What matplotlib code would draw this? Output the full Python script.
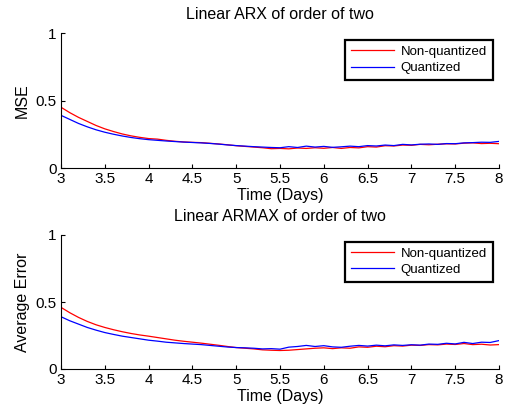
import numpy as np
import matplotlib
matplotlib.use('Agg')
import matplotlib.pyplot as plt

plt.rcParams['font.family'] = ['Liberation Sans', 'DejaVu Sans']

# time axis in days (0.1 day steps)
days = [3.0, 3.1, 3.2, 3.3, 3.4, 3.5, 3.6, 3.7, 3.8, 3.9,
        4.0, 4.1, 4.2, 4.3, 4.4, 4.5, 4.6, 4.7, 4.8, 4.9,
        5.0, 5.1, 5.2, 5.3, 5.4, 5.5, 5.6, 5.7, 5.8, 5.9,
        6.0, 6.1, 6.2, 6.3, 6.4, 6.5, 6.6, 6.7, 6.8, 6.9,
        7.0, 7.1, 7.2, 7.3, 7.4, 7.5, 7.6, 7.7, 7.8, 7.9, 8.0]

# Linear ARX - MSE
arx_nonquant = [0.45, 0.41, 0.375, 0.345, 0.315, 0.29, 0.27, 0.252, 0.238, 0.227,
                0.218, 0.214, 0.205, 0.198, 0.193, 0.19, 0.188, 0.183, 0.178, 0.172,
                0.165, 0.16, 0.155, 0.15, 0.143, 0.145, 0.142, 0.148, 0.145, 0.15,
                0.146, 0.152, 0.145, 0.152, 0.149, 0.158, 0.155, 0.165, 0.163, 0.17,
                0.168, 0.175, 0.172, 0.176, 0.179, 0.178, 0.184, 0.186, 0.181, 0.183, 0.18]
arx_quant = [0.39, 0.36, 0.33, 0.305, 0.283, 0.265, 0.25, 0.237, 0.226, 0.217,
             0.21, 0.205, 0.2, 0.196, 0.192, 0.189, 0.186, 0.182, 0.177, 0.171,
             0.166, 0.162, 0.158, 0.155, 0.152, 0.15, 0.158, 0.152, 0.162, 0.155,
             0.16, 0.153, 0.157, 0.162, 0.158, 0.166, 0.163, 0.17, 0.166, 0.175,
             0.171, 0.176, 0.178, 0.175, 0.181, 0.18, 0.186, 0.188, 0.191, 0.19, 0.197]

# Linear ARMAX - average error
armax_nonquant = [0.46, 0.42, 0.385, 0.355, 0.33, 0.31, 0.293, 0.278, 0.265, 0.254,
                  0.245, 0.235, 0.225, 0.215, 0.207, 0.2, 0.193, 0.185, 0.177, 0.168,
                  0.16, 0.155, 0.15, 0.143, 0.14, 0.138, 0.14, 0.145, 0.15, 0.155,
                  0.158, 0.152, 0.158, 0.155, 0.165, 0.162, 0.17, 0.166, 0.174, 0.171,
                  0.178, 0.176, 0.182, 0.18, 0.186, 0.183, 0.19, 0.182, 0.185, 0.179, 0.182]
armax_quant = [0.39, 0.36, 0.335, 0.31, 0.29, 0.272, 0.258, 0.245, 0.235, 0.225,
               0.215, 0.208, 0.2, 0.195, 0.19, 0.186, 0.182, 0.176, 0.17, 0.164,
               0.16, 0.158, 0.155, 0.15, 0.152, 0.148, 0.163, 0.168, 0.176, 0.168,
               0.174, 0.165, 0.162, 0.17, 0.176, 0.171, 0.178, 0.173, 0.18, 0.176,
               0.181, 0.178, 0.186, 0.184, 0.192, 0.187, 0.199, 0.19, 0.2, 0.198, 0.212]

x_ticks = [3, 3.5, 4, 4.5, 5, 5.5, 6, 6.5, 7, 7.5, 8]
x_tick_labels = ['3', '3.5', '4', '4.5', '5', '5.5', '6', '6.5', '7', '7.5', '8']
y_ticks = [0, 0.5, 1]
y_tick_labels = ['0', '0.5', '1']

fig = plt.figure(figsize=(5.07, 4.12), dpi=100)
W, H = 507, 412
ax1 = fig.add_axes([61 / W, 1 - 168 / H, 438 / W, 135 / H])
ax2 = fig.add_axes([61 / W, 1 - 369 / H, 438 / W, 134 / H])

panels = [
    (ax1, arx_nonquant, arx_quant, 'Linear ARX of order of two', 'MSE'),
    (ax2, armax_nonquant, armax_quant, 'Linear ARMAX of order of two', 'Average Error'),
]

for ax, red, blue, title, ylabel in panels:
    ax.plot(days, red, color='#ff0000', lw=0.9, label='Non-quantized')
    ax.plot(days, blue, color='#0000ff', lw=0.9, label='Quantized')
    ax.set_xlim(3, 8)
    ax.set_ylim(0, 1)
    ax.set_xticks(x_ticks)
    ax.set_xticklabels(x_tick_labels)
    ax.set_yticks(y_ticks)
    ax.set_yticklabels(y_tick_labels)
    ax.tick_params(direction='in', length=3, labelsize=11, pad=3)
    ax.spines['top'].set_visible(False)
    ax.spines['right'].set_visible(False)
    ax.set_title(title, fontsize=11.5, pad=10)
    ax.set_xlabel('Time (Days)', fontsize=11.5, labelpad=1)
    ax.set_ylabel(ylabel, fontsize=11.5, labelpad=4)
    leg = ax.legend(loc='upper right', bbox_to_anchor=(0.986, 0.95), fontsize=9.5,
                    fancybox=False, framealpha=1, edgecolor='black',
                    handlelength=3.3, handletextpad=0.5, borderpad=0.45,
                    labelspacing=0.3, borderaxespad=0)
    leg.get_frame().set_linewidth(1.6)

plt.savefig('out.png', dpi=100)
plt.close()
